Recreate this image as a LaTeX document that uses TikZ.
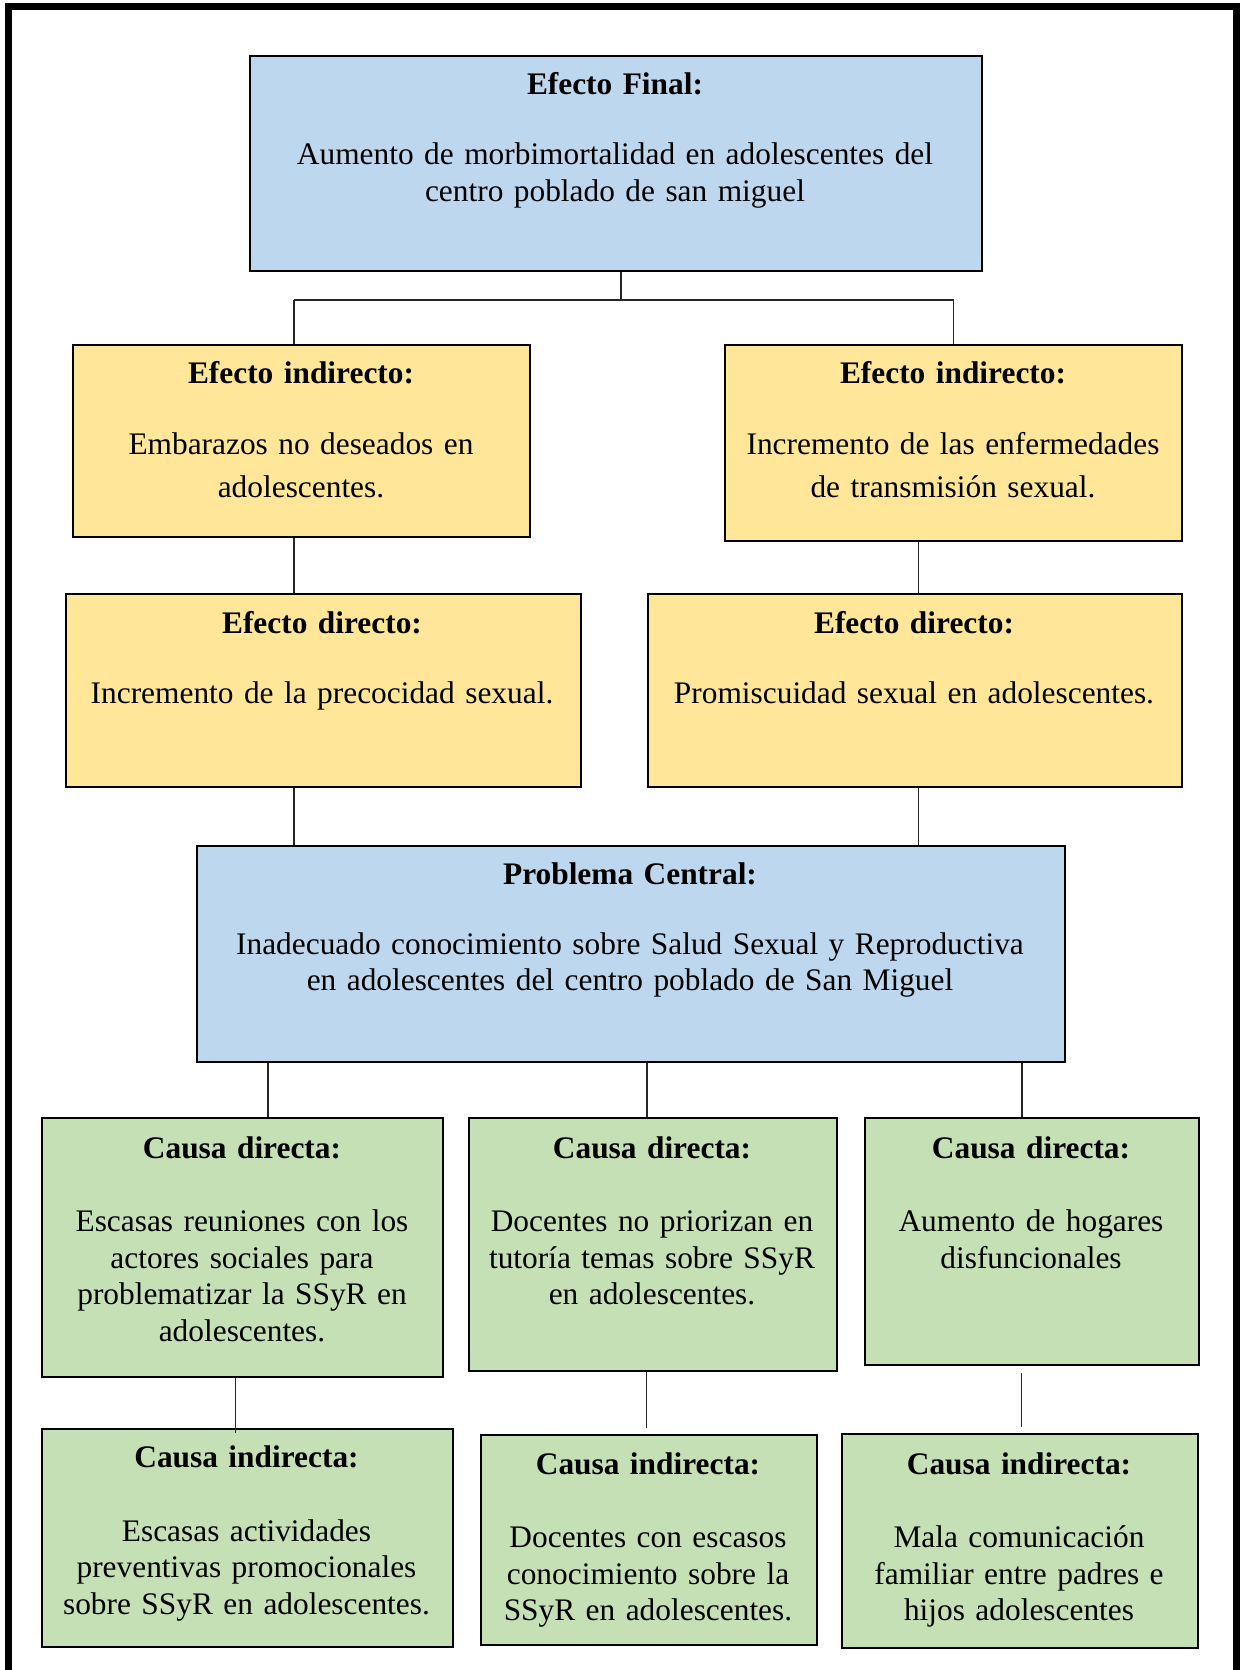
\documentclass[tikz,border=0pt]{standalone}
\usepackage{fontspec}
\setmainfont{Liberation Serif}
\definecolor{cblue}{HTML}{BDD7EE}
\definecolor{cyellow}{HTML}{FFE699}
\definecolor{cgreen}{HTML}{C5E0B4}
\newcommand\mybox[6]{\node[#2, anchor=north west, minimum width={(#5-#3)*0.4pt}, minimum height={(#6-#4)*0.4pt}] (#1) at (#3,#4) {};}
\tikzset{
  boxbase/.style={draw=black, line width=0.8pt, rectangle, inner sep=0pt},
  bluebox/.style={boxbase, fill=cblue},
  yellowbox/.style={boxbase, fill=cyellow},
  greenbox/.style={boxbase, fill=cgreen},
  txt/.style={anchor=base, align=center, text width=#1, inner sep=0pt, font=\fontsize{12.55}{14.6}\selectfont},
  txt/.default=160pt,
  conn/.style={draw=black!85, line width=0.55pt},
  frame/.style={draw=black, line width=2.8pt}
}
\begin{document}
\begin{tikzpicture}[x=0.4pt,y=-0.4pt]
\useasboundingbox (0,0) rectangle (1239,1670);
\draw[frame] (8.5,1670) -- (8.5,7) -- (1236,7) -- (1236,1670);

% boxes
\mybox{ef}{bluebox}{249}{55}{981}{270}
\mybox{ei1}{yellowbox}{72}{344}{529}{536}
\mybox{ei2}{yellowbox}{724}{344}{1181}{540}
\mybox{ed1}{yellowbox}{65}{593}{580}{786}
\mybox{ed2}{yellowbox}{647}{593}{1181}{786}
\mybox{pc}{bluebox}{196}{845}{1064}{1061}
\mybox{cd1}{greenbox}{41}{1117}{442}{1376}
\mybox{cd2}{greenbox}{468}{1117}{836}{1370}
\mybox{cd3}{greenbox}{864}{1117}{1198}{1364}
\mybox{ci1}{greenbox}{41}{1428}{452}{1646}
\mybox{ci2}{greenbox}{480}{1434}{816}{1644}
\mybox{ci3}{greenbox}{841}{1433}{1197}{1647}

% texts
\node[txt=300pt] (tef) at (615,95) {\textbf{Efecto Final:}\\[13.4pt]Aumento de morbimortalidad en adolescentes del\\centro poblado de san miguel};
\node[txt=180pt, font=\fontsize{12.55}{17.2}\selectfont] (tei1) at (301,384) {\textbf{Efecto indirecto:}\\[11pt]Embarazos no deseados en\\adolescentes.};
\node[txt=180pt, font=\fontsize{12.55}{17.2}\selectfont] (tei2) at (953,384) {\textbf{Efecto indirecto:}\\[11pt]Incremento de las enfermedades\\de transmisión sexual.};
\node[txt=200pt] (ted1) at (322,633) {\textbf{Efecto directo:}\\[13.4pt]Incremento de la precocidad sexual.};
\node[txt=200pt] (ted2) at (914,633) {\textbf{Efecto directo:}\\[13.4pt]Promiscuidad sexual en adolescentes.};
\node[txt=340pt] (tpc) at (630,884) {\textbf{Problema Central:}\\[13.4pt]Inadecuado conocimiento sobre Salud Sexual y Reproductiva\\en adolescentes del centro poblado de San Miguel};
\node[txt] (tcd1) at (242,1158) {\textbf{Causa directa:}\\[14.8pt]Escasas reuniones con los\\actores sociales para\\problematizar la SSyR en\\adolescentes.};
\node[txt] (tcd2) at (652,1158) {\textbf{Causa directa:}\\[14.8pt]Docentes no priorizan en\\tutoría temas sobre SSyR\\en adolescentes.};
\node[txt] (tcd3) at (1031,1158) {\textbf{Causa directa:}\\[14.8pt]Aumento de hogares\\disfuncionales};
\node[txt] (tci1) at (246.5,1467) {\textbf{Causa indirecta:}\\[15.1pt]Escasas actividades\\preventivas promocionales\\sobre SSyR en adolescentes.};
\node[txt] (tci2) at (648,1474) {\textbf{Causa indirecta:}\\[14.8pt]Docentes con escasos\\conocimiento sobre la\\SSyR en adolescentes.};
\node[txt] (tci3) at (1019,1474) {\textbf{Causa indirecta:}\\[14.8pt]Mala comunicación\\familiar entre padres e\\hijos adolescentes};

% junction coordinates
\coordinate (jm) at (621,300);
\coordinate (jl) at (294,300);
\coordinate (jr) at (953.5,300);
\coordinate (xl) at (294,0);
\coordinate (xr) at (918.5,0);
\coordinate (x1) at (268,0);
\coordinate (x2) at (647,0);
\coordinate (x3) at (1022,0);
\coordinate (y1) at (235.5,0);
\coordinate (y2) at (646.7,0);
\coordinate (y3) at (1021.7,0);

% connectors
\draw[conn] (ef.south -| jm) -- (jm);
\draw[conn] (jl) -- (jr);
\draw[conn] (jl) -- (ei1.north -| jl);
\draw[conn] (jr) -- (ei2.north -| jr);
\draw[conn] (ei1.south -| xl) -- (ed1.north -| xl);
\draw[conn] (ei2.south -| xr) -- (ed2.north -| xr);
\draw[conn] (ed1.south -| xl) -- (pc.north -| xl);
\draw[conn] (ed2.south -| xr) -- (pc.north -| xr);
\draw[conn] (pc.south -| x1) -- (cd1.north -| x1);
\draw[conn] (pc.south -| x2) -- (cd2.north -| x2);
\draw[conn] (pc.south -| x3) -- (cd3.north -| x3);
\draw[conn] (cd1.south -| y1) -- ([yshift=-2pt]ci1.north -| y1);
\draw[conn] (cd2.south -| y2) -- ([yshift=2.5pt]ci2.north -| y2);
\draw[conn] ([yshift=-2.8pt]cd3.south -| y3) -- ([yshift=2.4pt]ci3.north -| y3);
\end{tikzpicture}
\end{document}
